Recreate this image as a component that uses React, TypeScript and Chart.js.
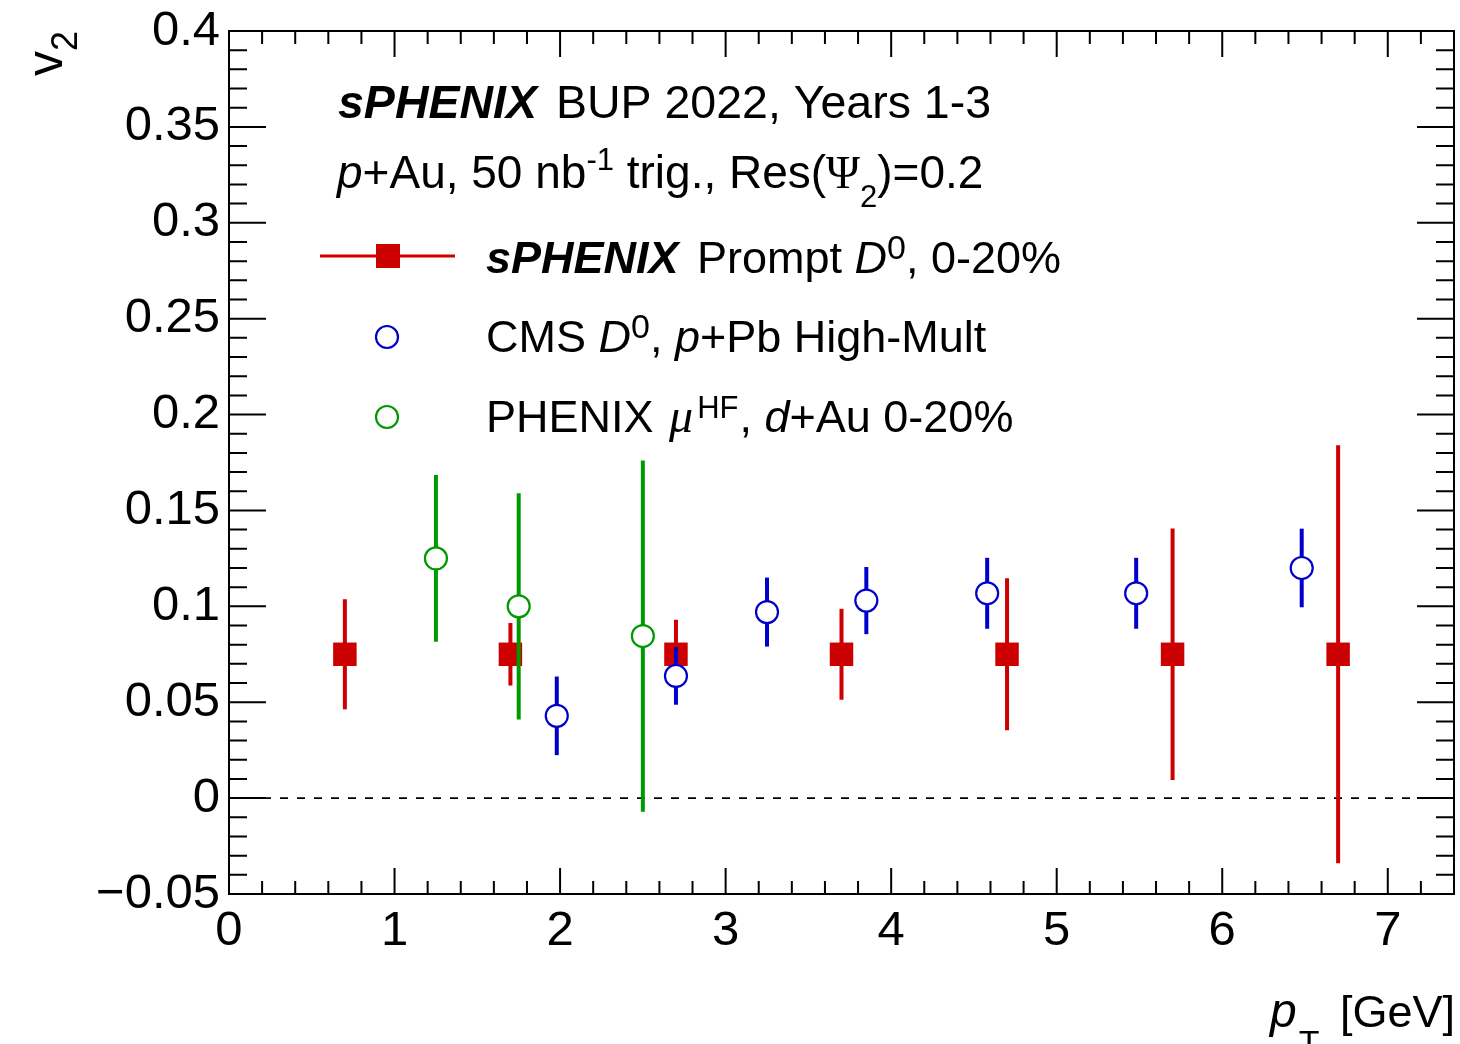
import React, { useEffect, useRef } from 'react';
import { Chart, registerables } from 'chart.js';

Chart.register(...registerables);

// ---------------- data ----------------
const sphenixPt = [0.7, 1.7, 2.7, 3.7, 4.7, 5.7, 6.7];
const sphenixV2 = [0.075, 0.075, 0.075, 0.075, 0.075, 0.075, 0.075];
const sphenixErr = [0.0287, 0.0163, 0.018, 0.0237, 0.0396, 0.0656, 0.109];

const cmsPt = [1.98, 2.7, 3.25, 3.85, 4.58, 5.48, 6.48];
const cmsV2 = [0.0429, 0.0637, 0.097, 0.103, 0.1068, 0.1068, 0.12];
const cmsErr = [0.0205, 0.015, 0.018, 0.0175, 0.0185, 0.0185, 0.0205];

const phenixPt = [1.25, 1.75, 2.5];
const phenixV2 = [0.125, 0.1, 0.0845];
const phenixErr = [0.0435, 0.059, 0.0916];

const xMajorTicks = [0, 1, 2, 3, 4, 5, 6, 7];
const xTickLabels = ['0', '1', '2', '3', '4', '5', '6', '7'];
const yMajorTicks = [-0.05, 0, 0.05, 0.1, 0.15, 0.2, 0.25, 0.3, 0.35, 0.4];
const yTickLabels = ['\u22120.05', '0', '0.05', '0.1', '0.15', '0.2', '0.25', '0.3', '0.35', '0.4'];

const X_MIN = 0;
const X_MAX = 7.4;
const Y_MIN = -0.05;
const Y_MAX = 0.4;

// ---------------- styles ----------------
const FONT = '"Liberation Sans", Arial, Helvetica, sans-serif';
const SERIF = '"Liberation Serif", "Times New Roman", serif';
const RED = '#cc0000';
const BLUE = '#0000cc';
const GREEN = '#009900';

type Part = { t: string; i?: boolean; b?: boolean; serif?: boolean; s?: number; dy?: number; dx?: number };

function partFont(p: Part, base: number) {
  const size = p.s ?? base;
  return `${p.i ? 'italic ' : ''}${p.b ? 'bold ' : ''}${size}px ${p.serif ? SERIF : FONT}`;
}

function richWidth(ctx: CanvasRenderingContext2D, parts: Part[], base: number) {
  let w = 0;
  for (const p of parts) {
    ctx.font = partFont(p, base);
    w += (p.dx ?? 0) + ctx.measureText(p.t).width;
  }
  return w;
}

function drawRich(ctx: CanvasRenderingContext2D, x: number, y: number, parts: Part[], base: number) {
  let cx = x;
  for (const p of parts) {
    ctx.font = partFont(p, base);
    cx += p.dx ?? 0;
    ctx.fillText(p.t, cx, y + (p.dy ?? 0));
    cx += ctx.measureText(p.t).width;
  }
}

const isMajor = (v: number, majors: number[]) => majors.some((m) => Math.abs(m - v) < 1e-6);

const decorPlugin = {
  id: 'rootDecor',
  afterDatasetsDraw(chart: any) {
    const { ctx, chartArea: a, scales } = chart;
    const xs = scales.x;
    const ys = scales.y;
    ctx.save();
    // ticks (inward, on all four sides)
    ctx.strokeStyle = '#000';
    ctx.lineWidth = 2;
    ctx.beginPath();
    for (const t of xs.ticks) {
      const px = xs.getPixelForValue(t.value);
      const len = isMajor(t.value, xMajorTicks) ? 26 : 13;
      ctx.moveTo(px, a.bottom);
      ctx.lineTo(px, a.bottom - len);
      ctx.moveTo(px, a.top);
      ctx.lineTo(px, a.top + len);
    }
    for (const t of ys.ticks) {
      const py = ys.getPixelForValue(t.value);
      const len = isMajor(t.value, yMajorTicks) ? 37 : 18;
      ctx.moveTo(a.left, py);
      ctx.lineTo(a.left + len, py);
      ctx.moveTo(a.right, py);
      ctx.lineTo(a.right - len, py);
    }
    ctx.stroke();
    ctx.strokeRect(a.left, a.top, a.right - a.left, a.bottom - a.top);

    // texts
    ctx.fillStyle = '#000';
    ctx.textBaseline = 'alphabetic';
    ctx.textAlign = 'left';
    const F = 45;
    const SUP = 31;
    drawRich(ctx, 338, 118, [{ t: 'sPHENIX', b: true, i: true }, { t: ' BUP 2022, Years 1-3', dx: 6 }], 46.5);
    drawRich(
      ctx,
      337,
      188,
      [
        { t: 'p', i: true },
        { t: '+Au, 50 nb' },
        { t: '-1', s: SUP, dy: -18 },
        { t: ' trig., Res(' },
        { t: '\u03A8', serif: true },
        { t: '2', s: SUP, dy: 19 },
        { t: ')=0.2' },
      ],
      46,
    );
    drawRich(
      ctx,
      486,
      273,
      [
        { t: 'sPHENIX', b: true, i: true },
        { t: ' Prompt ', dx: 6 },
        { t: 'D', i: true },
        { t: '0', s: 34, dy: -14 },
        { t: ', 0-20%' },
      ],
      F,
    );
    drawRich(
      ctx,
      486,
      352,
      [
        { t: 'CMS ' },
        { t: 'D', i: true },
        { t: '0', s: 34, dy: -14 },
        { t: ', ' },
        { t: 'p', i: true },
        { t: '+Pb High-Mult' },
      ],
      F,
    );
    drawRich(
      ctx,
      486,
      432,
      [
        { t: 'PHENIX ' },
        { t: '\u03BC', i: true, serif: true, s: 48, dx: 3 },
        { t: 'HF', s: SUP, dy: -14, dx: 4 },
        { t: ', ', dx: 1 },
        { t: 'd', i: true },
        { t: '+Au 0-20%' },
      ],
      F,
    );

    // legend markers
    ctx.strokeStyle = RED;
    ctx.lineWidth = 3;
    ctx.beginPath();
    ctx.moveTo(320, 256);
    ctx.lineTo(455, 256);
    ctx.stroke();
    ctx.fillStyle = RED;
    ctx.fillRect(376, 244, 24, 24);
    ctx.lineWidth = 2.2;
    ctx.fillStyle = '#fff';
    ctx.strokeStyle = BLUE;
    ctx.beginPath();
    ctx.arc(387, 337, 11, 0, Math.PI * 2);
    ctx.fill();
    ctx.stroke();
    ctx.strokeStyle = GREEN;
    ctx.beginPath();
    ctx.arc(387, 417, 11, 0, Math.PI * 2);
    ctx.fill();
    ctx.stroke();

    // x axis title (right aligned)
    ctx.fillStyle = '#000';
    const xt: Part[] = [
      { t: 'p', i: true, s: 48 },
      { t: 'T', s: 34, dy: 27, dx: 2 },
      { t: ' [GeV]', dx: 8 },
    ];
    const w = richWidth(ctx, xt, 45);
    drawRich(ctx, a.right + 1 - w, 1027, xt, 45);

    // y axis title (rotated, ending at the top of the frame)
    ctx.save();
    ctx.translate(62, a.top);
    ctx.rotate(-Math.PI / 2);
    const yt: Part[] = [{ t: 'v' }, { t: '2', s: 36, dy: 15 }];
    const wy = richWidth(ctx, yt, 50);
    drawRich(ctx, -wy, 0, yt, 50);
    ctx.restore();

    ctx.restore();
  },
};

function errorBars(pts: number[], vals: number[], errs: number[]) {
  return pts.map((x, i) => ({ x, y: [vals[i] - errs[i], vals[i] + errs[i]] }));
}
function points(pts: number[], vals: number[]) {
  return pts.map((x, i) => ({ x, y: vals[i] }));
}

const zeroPadding = (s: any) => {
  s.paddingTop = 0;
  s.paddingBottom = 0;
  s.paddingLeft = 0;
  s.paddingRight = 0;
};

export default function App() {
  const ref = useRef<HTMLCanvasElement | null>(null);
  useEffect(() => {
    if (!ref.current) return;
    const barCommon = {
      type: 'bar' as const,
      barThickness: 4,
      grouped: false,
      borderWidth: 0,
      inflateAmount: 0,
    };
    const chart = new Chart(ref.current, {
      type: 'scatter',
      data: {
        datasets: [
          {
            type: 'line',
            label: 'zero',
            data: [
              { x: X_MIN, y: 0 },
              { x: X_MAX, y: 0 },
            ],
            borderColor: '#000',
            borderWidth: 1.6,
            borderDash: [8, 9],
            pointRadius: 0,
            order: 7,
          } as any,
          { ...barCommon, label: 'sPHENIX err', data: errorBars(sphenixPt, sphenixV2, sphenixErr), backgroundColor: RED, order: 6 } as any,
          {
            label: 'sPHENIX Prompt D0, 0-20%',
            data: points(sphenixPt, sphenixV2),
            pointStyle: 'rect',
            pointRadius: 16.6,
            pointBackgroundColor: RED,
            pointBorderWidth: 0,
            order: 5,
          } as any,
          { ...barCommon, label: 'PHENIX err', data: errorBars(phenixPt, phenixV2, phenixErr), backgroundColor: GREEN, order: 4 } as any,
          {
            label: 'PHENIX muHF, d+Au 0-20%',
            data: points(phenixPt, phenixV2),
            pointStyle: 'circle',
            pointRadius: 11,
            pointBackgroundColor: '#fff',
            pointBorderColor: GREEN,
            pointBorderWidth: 2.2,
            order: 3,
          } as any,
          { ...barCommon, label: 'CMS err', data: errorBars(cmsPt, cmsV2, cmsErr), backgroundColor: BLUE, order: 2 } as any,
          {
            label: 'CMS D0, p+Pb High-Mult',
            data: points(cmsPt, cmsV2),
            pointStyle: 'circle',
            pointRadius: 11,
            pointBackgroundColor: '#fff',
            pointBorderColor: BLUE,
            pointBorderWidth: 2.2,
            order: 1,
          } as any,
        ],
      },
      options: {
        animation: false,
        responsive: false,
        devicePixelRatio: 1,
        events: [],
        layout: { autoPadding: false, padding: { left: 0, top: 31, right: 6, bottom: 0 } },
        plugins: { legend: { display: false }, tooltip: { enabled: false }, title: { display: false } },
        scales: {
          x: {
            type: 'linear',
            min: X_MIN,
            max: X_MAX,
            offset: false,
            grid: { display: false, drawTicks: false, offset: false, tickLength: 0 },
            border: { display: false },
            ticks: {
              stepSize: 0.2,
              autoSkip: false,
              maxRotation: 0,
              minRotation: 0,
              padding: 8,
              color: '#000',
              font: { family: FONT, size: 49 },
              callback: (v: any) => {
                const i = xMajorTicks.findIndex((m) => Math.abs(m - Number(v)) < 1e-6);
                return i >= 0 ? xTickLabels[i] : '';
              },
            },
            afterFit: (s: any) => {
              s.height = 150;
              zeroPadding(s);
            },
          },
          y: {
            type: 'linear',
            min: Y_MIN,
            max: Y_MAX,
            grid: { display: false, drawTicks: false, tickLength: 0 },
            border: { display: false },
            ticks: {
              stepSize: 0.01,
              autoSkip: false,
              padding: 9,
              color: '#000',
              font: { family: FONT, size: 49 },
              callback: (v: any) => {
                const i = yMajorTicks.findIndex((m) => Math.abs(m - Number(v)) < 1e-6);
                return i >= 0 ? yTickLabels[i] : '';
              },
            },
            afterFit: (s: any) => {
              s.width = 229;
              zeroPadding(s);
            },
          },
        },
      } as any,
      plugins: [decorPlugin],
    });
    return () => chart.destroy();
  }, []);
  return (
    <div style={{ position: 'absolute', left: 0, top: 0, width: 1460, height: 1044, background: '#fff' }}>
      <canvas ref={ref} width={1460} height={1044} style={{ display: 'block' }} />
    </div>
  );
}
